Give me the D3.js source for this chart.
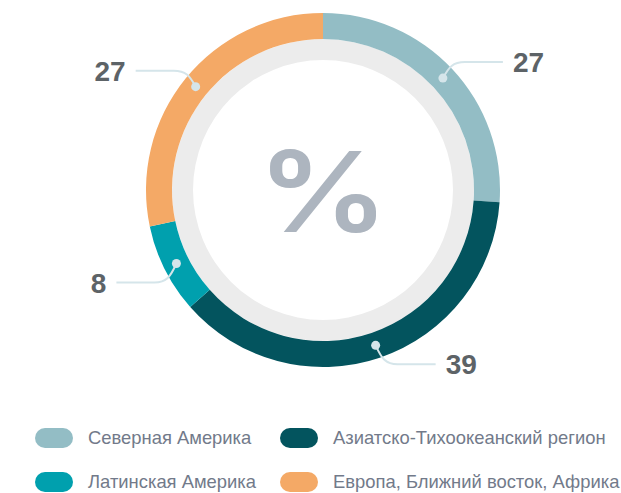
<!DOCTYPE html>
<html>
<head>
<meta charset="utf-8">
<script src="https://cdn.jsdelivr.net/npm/d3@7"></script>
<style>
  body { margin: 0; background: #fff; }
  svg { display: block; }
</style>
</head>
<body>
<script>
// data
const regions = ["Северная Америка", "Азиатско-Тихоокеанский регион", "Латинская Америка", "Европа, Ближний восток, Африка"];
const shares = [26.1, 37.4, 8.2, 28.3];   // slice sizes as drawn
const labels = ["27", "39", "8", "27"];   // printed numbers
const colors = ["#93bdc5", "#03545e", "#00a0ae", "#f4a966"];

const w = 621, h = 493;
const cx = 323, cy = 190;
const rOuter = 177, rInner = 151, rHole = 130;

const svg = d3.select("body").append("svg")
  .attr("width", w)
  .attr("height", h);

const g = svg.append("g").attr("transform", "translate(" + cx + "," + cy + ")");

// grey inner ring
g.append("path")
  .attr("d", d3.arc().innerRadius(rHole).outerRadius(rInner).startAngle(0).endAngle(2 * Math.PI)())
  .attr("fill", "#ececec");

const pie = d3.pie().sort(null).value(d => d);
const arcs = pie(shares);
const arc = d3.arc().innerRadius(rInner).outerRadius(rOuter);

g.selectAll("path.slice")
  .data(arcs)
  .enter()
  .append("path")
  .attr("class", "slice")
  .attr("d", arc)
  .attr("fill", (d, i) => colors[i]);

// percent sign (stretched a bit, the original glyph is wide)
g.append("text")
  .attr("transform", "translate(0,2) scale(1.17,1)")
  .attr("dy", "0.36em")
  .attr("text-anchor", "middle")
  .style("font-family", "Inter, sans-serif")
  .style("font-weight", 600)
  .style("font-size", "112px")
  .attr("fill", "#adb5bf")
  .text("%");

// leader lines + labels
const rDot = (rInner + rOuter) / 2;
arcs.forEach((d, i) => {
  const a = (d.startAngle + d.endAngle) / 2;
  const x0 = rDot * Math.sin(a), y0 = -rDot * Math.cos(a);
  const s = x0 >= 0 ? 1 : -1;
  const y1 = y0 + (y0 < 0 ? -16 : 19);
  const path = d3.path();
  path.moveTo(x0, y0);
  path.bezierCurveTo(x0 + s * 6, y1 + (y0 - y1) * 0.3, x0 + s * 10, y1, x0 + s * 22, y1);
  path.lineTo(x0 + s * 60, y1);
  g.append("path")
    .attr("d", path.toString())
    .attr("fill", "none")
    .attr("stroke", "#d5e5ea")
    .attr("stroke-width", 2);
  g.append("circle")
    .attr("cx", x0)
    .attr("cy", y0)
    .attr("r", 4.5)
    .attr("fill", "#d5e5ea");
  g.append("text")
    .attr("x", x0 + s * 70)
    .attr("y", y1)
    .attr("dy", "0.36em")
    .attr("text-anchor", s > 0 ? "start" : "end")
    .style("font-family", "'Liberation Sans', Arial, sans-serif")
    .style("font-weight", 700)
    .style("font-size", "28px")
    .attr("fill", "#5d6367")
    .text(labels[i]);
});

// legend
const legX = [35, 280], legY = [438, 482];
const legend = svg.append("g");
regions.forEach((name, i) => {
  const x = legX[i % 2], y = legY[Math.floor(i / 2)];
  legend.append("rect")
    .attr("x", x)
    .attr("y", y - 10)
    .attr("width", 38)
    .attr("height", 20)
    .attr("rx", 10)
    .attr("fill", colors[i]);
  legend.append("text")
    .attr("x", x + 53)
    .attr("y", y)
    .attr("dy", "0.35em")
    .style("font-family", "'Liberation Sans', Arial, sans-serif")
    .style("font-size", "18.4px")
    .attr("fill", "#727a8a")
    .text(name);
});
</script>
</body>
</html>
